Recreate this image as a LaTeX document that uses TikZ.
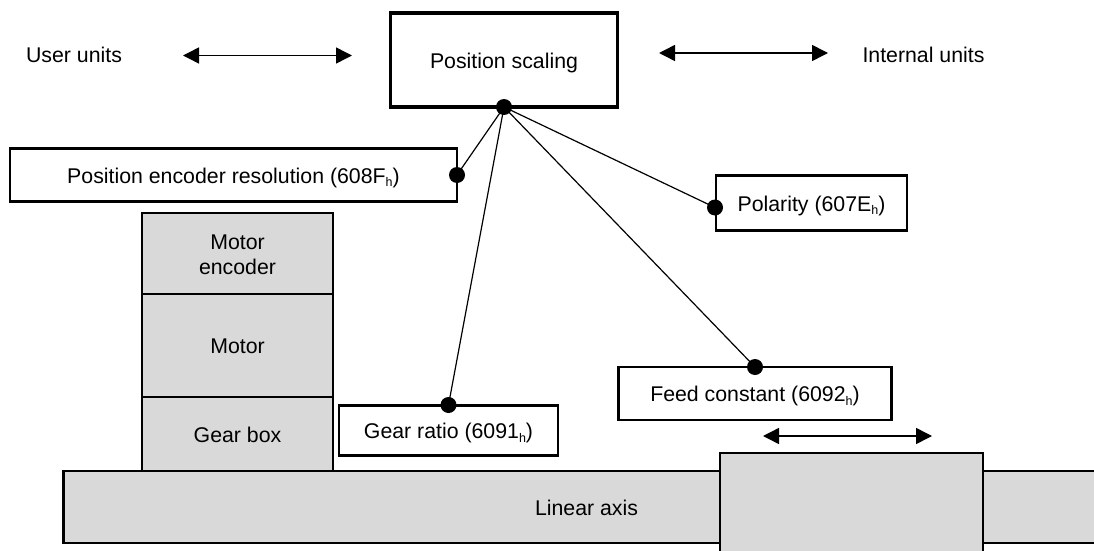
\documentclass[tikz,border=0pt]{standalone}
\usepackage{fontspec}
\setmainfont{Liberation Sans}
\usetikzlibrary{arrows.meta}
\newcommand{\hsub}{\raisebox{-3.5pt}{\fontsize{12.5}{12.5}\selectfont h}}

\begin{document}
\begin{tikzpicture}[x=1pt,y=-1pt,>={Triangle[length=16pt,width=16pt]},
  font=\fontsize{21.3}{25}\selectfont,
  box/.style={draw=black,line width=2.3pt,fill=white,inner sep=0pt,outer sep=0pt,align=center,text height=20.5pt,text depth=4.5pt},
  part/.style={box,fill=partgray},
  joint/.style={circle,fill=black,inner sep=0pt,minimum size=16pt},
  wire/.style={line width=1.2pt},
  travel/.style={<->,line width=1.5pt}]
\definecolor{partgray}{HTML}{D9D9D9}
\clip (0,0) rectangle (1094,551);
\node[inner sep=0pt] (user)  at (74,55)  {User units};
\node[inner sep=0pt] (internal) at (923.5,55) {Internal units};
\node[box,line width=3.2pt,minimum width=227pt,minimum height=94pt] (scaling) at (504,60) {Position scaling};
\node[box,minimum width=447pt,minimum height=53pt] (encres) at (233.5,175) {Position encoder resolution (608F\hsub)};
\node[box,minimum width=191pt,minimum height=55pt] (polarity) at (811.5,203) {Polarity (607E\hsub)};
\node[box,minimum width=219pt,minimum height=50pt] (gear) at (448.5,430.5) {Gear ratio (6091\hsub)};
\node[box,minimum width=273pt,minimum height=53pt] (feed) at (755,393.5) {Feed constant (6092\hsub)};
\node[part,text height=,text depth=,minimum width=191pt,minimum height=81pt] (enc) at (237.5,253.5) {\rule{0pt}{18pt}Motor\\encoder};
\node[part,minimum width=191pt,minimum height=103pt] (motor) at (237.5,345.5) {Motor};
\node[part,minimum width=191pt,minimum height=74pt] (gbox) at (237.5,434) {Gear box};
\node[part,minimum width=1046pt,minimum height=72pt] (axis) at (586.5,507) {Linear axis};
\node[part,minimum width=263pt,minimum height=120pt] (slider) at (851.5,513) {};
% arrows
\coordinate (a1) at (183,55.5);
\coordinate (a2) at (352,55.5);
\coordinate (b1) at (659,53);
\coordinate (b2) at (828,53);
\coordinate (c1) at (763,436);
\coordinate (c2) at (932,436);
\draw[travel] (a1) -- (a2);
\draw[travel] (b1) -- (b2);
\draw[travel] (c1) -- (c2);
% joints
\node[joint] (j0) at (504,107) {};
\node[joint] (j1) at (457,175) {};
\node[joint] (j2) at (715,207.5) {};
\node[joint] (j3) at (448.5,405) {};
\node[joint] (j4) at (755,367) {};
\draw[wire] (j0.center) -- (j1.center);
\draw[wire] (j0.center) -- (j2.center);
\draw[wire] (j0.center) -- (j3.center);
\draw[wire] (j0.center) -- (j4.center);
\end{tikzpicture}
\end{document}
